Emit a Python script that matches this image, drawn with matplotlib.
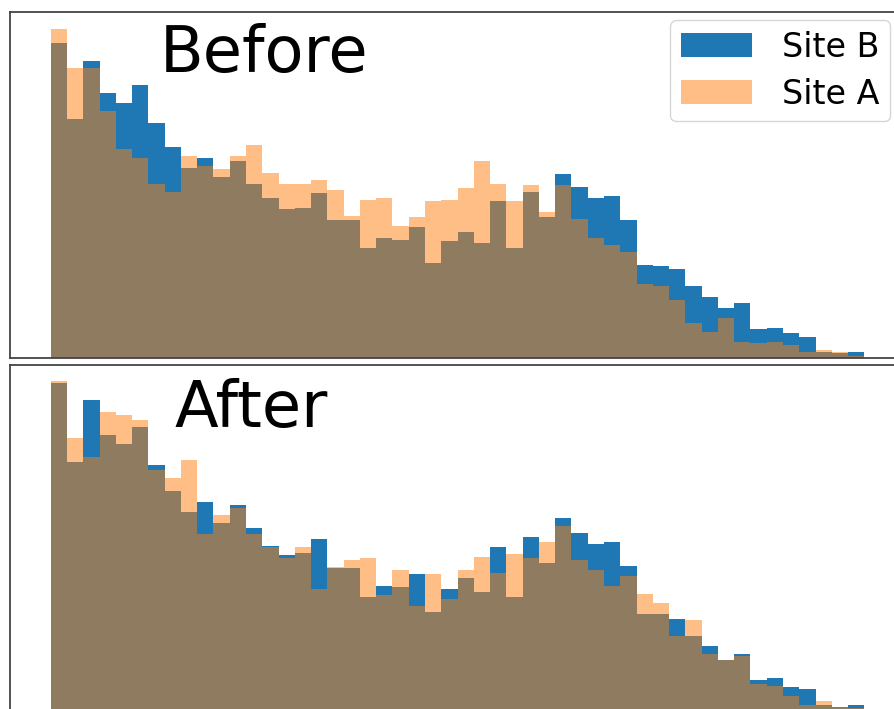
import matplotlib
matplotlib.use("Agg")
import matplotlib.pyplot as plt
import numpy as np

# histogram counts per bin (50 equal-width bins)
bin_edges = np.arange(51)

site_b_before = [316, 240, 298, 266, 256, 274, 236, 212, 191, 201,
                 182, 198, 175, 161, 150, 151, 166, 139, 139, 110,
                 121, 119, 132, 95, 118, 127, 116, 158, 110, 167,
                 142, 185, 172, 161, 163, 139, 93, 92, 89, 72,
                 61, 50, 55, 29, 30, 25, 21, 6, 5, 6]
site_a_before = [330, 291, 291, 248, 210, 201, 175, 167, 203, 193,
                 190, 203, 214, 186, 175, 175, 179, 169, 143, 159,
                 161, 133, 142, 158, 159, 171, 198, 175, 158, 174,
                 147, 174, 140, 121, 114, 106, 74, 72, 58, 35,
                 26, 40, 16, 15, 16, 13, 6, 8, 6, 2]

site_b_after = [329, 250, 312, 277, 268, 285, 247, 221, 200, 210,
                189, 207, 184, 166, 157, 159, 173, 144, 144, 115,
                126, 125, 138, 99, 123, 134, 120, 165, 115, 175,
                149, 194, 179, 168, 170, 146, 97, 97, 92, 75,
                65, 51, 57, 31, 33, 24, 22, 6, 4, 6]
site_a_after = [331, 274, 255, 300, 297, 292, 242, 234, 252, 178,
                197, 204, 178, 165, 154, 165, 123, 145, 152, 154,
                117, 142, 105, 138, 113, 142, 155, 139, 158, 154,
                170, 186, 152, 142, 126, 136, 118, 108, 75, 91,
                57, 51, 55, 27, 25, 15, 6, 10, 4, 3]

W, H = 895, 709
fig = plt.figure(figsize=(W / 100, H / 100), dpi=100)

ax_top = fig.add_axes([10 / W, (H - 358) / H, 1.0, 346 / H])
ax_bot = fig.add_axes([10 / W, (H - 711) / H, 1.0, 346 / H], sharey=ax_top)

span = bin_edges[-1] - bin_edges[0]
xlim = (bin_edges[0] - 0.05 * span, bin_edges[-1] + 0.05 * span)
ymax = 1.05 * max(max(site_b_before), max(site_a_before),
                  max(site_b_after), max(site_a_after))

panels = [
    (ax_top, site_b_before, site_a_before, "Before", 0.1676, 0.826),
    (ax_bot, site_b_after, site_a_after, "After", 0.1838, 0.822),
]

for ax, b_vals, a_vals, title, tx, ty in panels:
    ax.stairs(b_vals, bin_edges, fill=True, color="#1f77b4", label="Site B")
    ax.stairs(a_vals, bin_edges, fill=True, color="#ff7f0e", alpha=0.5,
              label="Site A")
    ax.set_xlim(*xlim)
    ax.set_ylim(0, ymax)
    ax.set_xticks([])
    ax.set_yticks([])
    for sp in ax.spines.values():
        sp.set_linewidth(1.3)
        sp.set_color("#444444")
    ax.text(tx, ty, title, transform=ax.transAxes, fontsize=46,
            va="baseline", ha="left")

# legend runs a little past the right edge of the figure
ax_top.legend(loc="upper left", bbox_to_anchor=(670 / W, (H - 20) / H),
              bbox_transform=fig.transFigure, borderaxespad=0,
              fontsize=24, handlelength=2.15, labelspacing=0.42,
              borderpad=0.32, handletextpad=0.9)

fig.savefig("out.png", dpi=100)
plt.close(fig)
